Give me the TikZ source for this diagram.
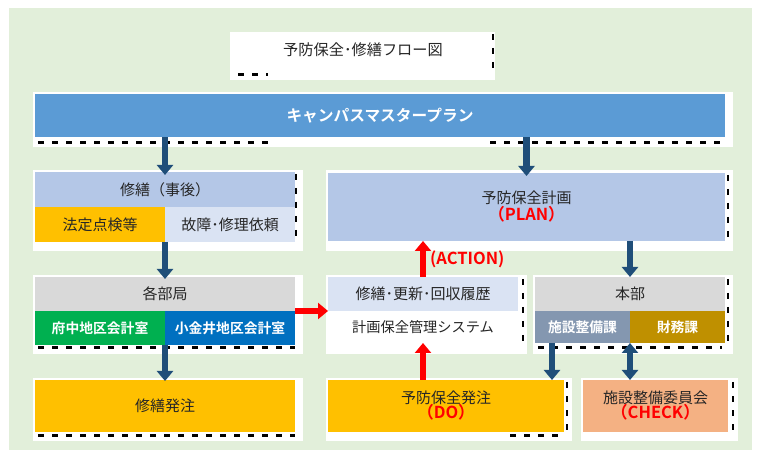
\documentclass[tikz,border=0pt]{standalone}
\usepackage{fontspec}
\setmainfont{Noto Sans CJK JP}[BoldFont={Noto Sans CJK JP Bold}]
\usetikzlibrary{arrows.meta}
\definecolor{bggreen}{HTML}{E2EFDA}
\definecolor{mblue}{HTML}{5B9BD5}
\definecolor{lblue}{HTML}{B4C7E7}
\definecolor{llblue}{HTML}{DAE3F3}
\definecolor{orng}{HTML}{FFC000}
\definecolor{lgray}{HTML}{D9D9D9}
\definecolor{grn}{HTML}{00B050}
\definecolor{dblue}{HTML}{0070C0}
\definecolor{gblue}{HTML}{8497B0}
\definecolor{gold}{HTML}{BF9000}
\definecolor{salmon}{HTML}{F4B183}
\definecolor{arrblue}{HTML}{1F4E79}
\definecolor{txt}{HTML}{262626}
\begin{document}
\begin{tikzpicture}[x=1pt,y=-1pt,
  box/.style={draw=none, inner sep=0pt, outer sep=0pt, anchor=north west, align=center,
    text=txt, font=\fontsize{15}{18}\selectfont},
  wlabel/.style={text=white, font=\fontsize{13.8}{16}\selectfont\bfseries},
  redtxt/.style={text=red, font=\fontsize{16.5}{18}\selectfont\bfseries},
  backing/.style={fill=white, draw=none},
  bd/.style={draw=black, line width=3pt, dash pattern=on 6pt off 8pt},
  rd/.style={draw=black, line width=2.5pt, dash pattern=on 6pt off 8pt},
  barrow/.style={draw=arrblue, line width=6.5pt, -{Triangle[width=16pt,length=10pt]}},
  bdarrow/.style={draw=arrblue, line width=6.5pt, {Triangle[width=16pt,length=10pt]}-{Triangle[width=16pt,length=10pt]}},
  rarrow/.style={draw=red, line width=6.5pt, -{Triangle[width=16pt,length=10pt]}}
]
\useasboundingbox (0,0) rectangle (758,454);
\fill[white] (0,0) rectangle (758,454);
\fill[bggreen] (9,8) rectangle (752,450);

% white backings (as in the reference)
\fill[backing] (230,32) rectangle (495,80);
\fill[backing] (33,92) rectangle (733,147);
\fill[backing] (33,170) rectangle (303,251);
\fill[backing] (326,170) rectangle (733,251);
\fill[backing] (33,275) rectangle (303,354);
\fill[backing] (326,275) rectangle (527,354);
\fill[backing] (533,275) rectangle (733,354);
\fill[backing] (33,378) rectangle (303,441);
\fill[backing] (326,378) rectangle (572,441);
\fill[backing] (581,378) rectangle (738,441);

% dashed artefact marks
\draw[rd] (493,34) -- (493,74);
\draw[bd] (238,75) -- (268,75);
\draw[bd] (38,143) -- (270,143);
\draw[bd] (490,143) -- (722,143);
\draw[rd] (296,174) -- (296,242);
\draw[bd] (38,348) -- (295,348);
\draw[bd] (38,435) -- (295,435);
\draw[rd] (728,175) -- (728,241);
\draw[rd] (523,279) -- (523,345);
\draw[bd] (538,348) -- (722,348);
\draw[rd] (728,279) -- (728,345);
\draw[rd] (567,382) -- (567,432);
\draw[bd] (510,435) -- (562,435);
\draw[rd] (733,382) -- (733,432);

% title
\node[box, anchor=center, font=\fontsize{15.2}{18}\selectfont] (title) at (363,50) {予防保全･修繕フロー図};

% master plan
\node[box, fill=mblue, minimum width=690pt, minimum height=43pt, text=white,
  font=\fontsize{15.7}{18}\selectfont\bfseries] (mp) at (35,94) {キャンパスマスタープラン};

% 修繕（事後）
\node[box, fill=lblue, minimum width=260pt, minimum height=35pt] (sj) at (35,172) {修繕（事後）};
\node[box, fill=orng, minimum width=130pt, minimum height=35pt] (houtei) at (35,207) {法定点検等};
\node[box, fill=llblue, minimum width=130pt, minimum height=35pt] (koshou) at (165,207) {故障･修理依頼};

% 各部局
\node[box, fill=lgray, minimum width=260pt, minimum height=34pt] (kakubu) at (35,277) {各部局};
\node[box, wlabel, fill=grn, minimum width=130pt, minimum height=34pt] (fuchu) at (35,311) {府中地区会計室};
\node[box, wlabel, fill=dblue, minimum width=130pt, minimum height=34pt] (koganei) at (165,311) {小金井地区会計室};

% 修繕発注
\node[box, fill=orng, minimum width=260pt, minimum height=52pt] (hatchu) at (35,380) {修繕発注};

% 予防保全計画
\node[box, fill=lblue, minimum width=397pt, minimum height=68pt] (plan) at (328,173)
  {予防保全計画\\[-1pt]{\color{red}\fontsize{16.5}{18}\selectfont\bfseries （PLAN）}};

% 履歴
\node[box, fill=llblue, minimum width=190pt, minimum height=34pt] (rireki) at (328,277) {修繕･更新･回収履歴};
\node[box, fill=white, minimum width=190pt, minimum height=32pt, font=\fontsize{14.2}{16}\selectfont] (system) at (328,311) {計画保全管理システム};

% 本部
\node[box, fill=lgray, minimum width=190pt, minimum height=34pt] (honbu) at (535,277) {本部};
\node[box, wlabel, fill=gblue, minimum width=95pt, minimum height=32pt] (shisetsu) at (535,311) {施設整備課};
\node[box, wlabel, fill=gold, minimum width=95pt, minimum height=32pt] (zaimu) at (630,311) {財務課};

% 予防保全発注
\node[box, fill=orng, minimum width=236pt, minimum height=52pt] (dohatchu) at (328,380)
  {予防保全発注\\[-3pt]{\color{red}\fontsize{16.5}{18}\selectfont\bfseries （DO）}};

% 施設整備委員会
\node[box, fill=salmon, minimum width=145pt, minimum height=52pt] (iinkai) at (583,380)
  {施設整備委員会\\[-3pt]{\color{red}\fontsize{16.5}{18}\selectfont\bfseries （CHECK）}};

% blue arrows
\draw[barrow] (mp.south -| sj.north) -- ([yshift=-3pt]sj.north);
\draw[barrow] (mp.south -| plan.north) -- ([yshift=-3pt]plan.north);
\draw[barrow] (houtei.south east) -- ([yshift=-2pt]kakubu.north);
\draw[barrow] (fuchu.south east) -- ([yshift=-1pt]hatchu.north);
\draw[barrow] (plan.south -| honbu.north) -- (honbu.north);
\draw[barrow] ([xshift=17pt]shisetsu.south west) -- ([xshift=17pt]shisetsu.south west |- dohatchu.north);
\draw[bdarrow] (shisetsu.south east) -- (shisetsu.south east |- iinkai.north);

% red arrows
\draw[rarrow] (rireki.north) -- (rireki.north |- plan.south);
\node[redtxt, anchor=west, inner sep=0pt] (action) at (430,259) {(ACTION)};
\draw[rarrow] (system.south |- dohatchu.north) -- (system.south);
\draw[rarrow] (kakubu.south east) -- (kakubu.south east -| rireki.west);
\end{tikzpicture}
\end{document}
